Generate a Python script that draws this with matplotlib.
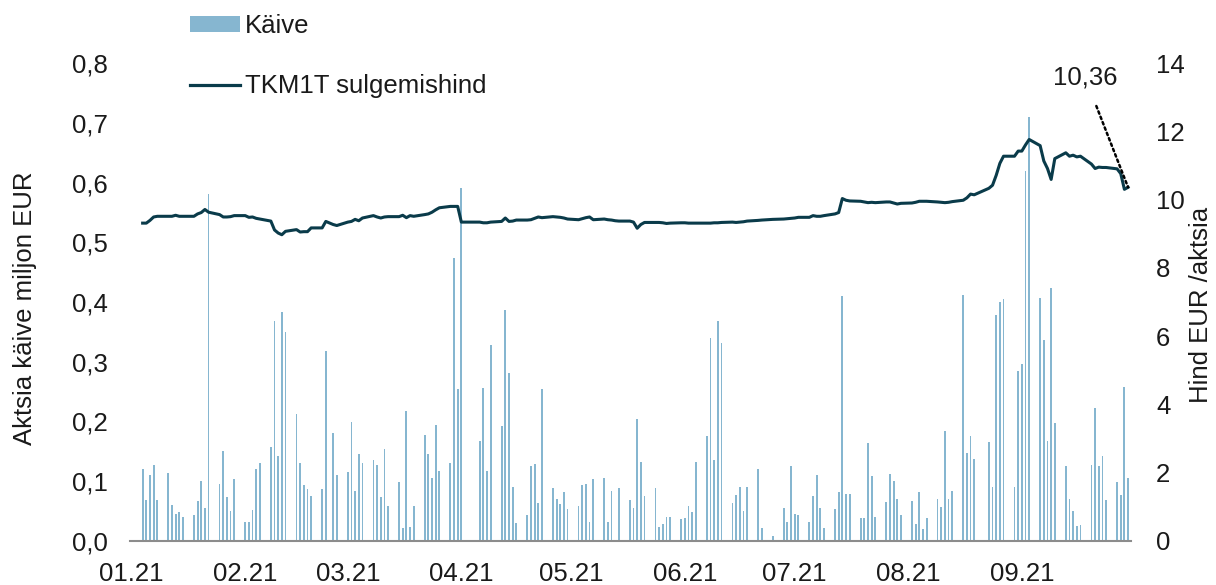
import matplotlib
matplotlib.use("Agg")
import matplotlib.pyplot as plt
import matplotlib.dates as mdates
from matplotlib.patches import Patch
from matplotlib.lines import Line2D
import pandas as pd

plt.rcParams['font.family'] = ['Liberation Sans', 'DejaVu Sans']

# ---- data -------------------------------------------------------------
holidays = ['2021-02-24', '2021-04-02', '2021-04-05', '2021-06-23', '2021-06-24', '2021-08-20']
trade_days = pd.bdate_range('2021-01-04', '2021-09-30')
trade_days = trade_days[~trade_days.isin(pd.to_datetime(holidays))]

# turnover, million EUR (one value per trading day)
volume = [
    0.121, 0.068, 0.111, 0.128, 0.069,
    0.113, 0.061, 0.046, 0.049, 0.040,
    0.044, 0.067, 0.100, 0.056, 0.581,
    0.096, 0.151, 0.074, 0.050, 0.103,
    0.031, 0.031, 0.052, 0.121, 0.131,
    0.158, 0.369, 0.143, 0.383, 0.349,
    0.212, 0.131, 0.094, 0.087, 0.076,
    0.087, 0.318, 0.180, 0.111,
    0.115, 0.199, 0.084, 0.146, 0.131,
    0.136, 0.127, 0.074, 0.154, 0.058,
    0.098, 0.021, 0.217, 0.024, 0.059,
    0.178, 0.146, 0.106, 0.194, 0.117,
    0.130, 0.473, 0.254, 0.591,
    0.167, 0.256, 0.117, 0.328,
    0.192, 0.386, 0.281, 0.091, 0.030,
    0.044, 0.125, 0.129, 0.063, 0.254,
    0.088, 0.070, 0.062, 0.082, 0.053,
    0.059, 0.094, 0.096, 0.032, 0.104,
    0.106, 0.031, 0.084, 0.000, 0.089,
    0.068, 0.055, 0.204, 0.133, 0.075,
    0.088, 0.024, 0.028, 0.040, 0.040,
    0.037, 0.038, 0.058, 0.049, 0.132,
    0.176, 0.340, 0.136, 0.368, 0.332,
    0.064, 0.077, 0.090, 0.051, 0.090,
    0.121, 0.022, 0.009,
    0.056, 0.031, 0.125, 0.045, 0.043,
    0.031, 0.075, 0.111, 0.056, 0.021,
    0.054, 0.082, 0.410, 0.079, 0.079,
    0.039, 0.039, 0.164, 0.109, 0.041,
    0.065, 0.112, 0.101, 0.071, 0.044,
    0.067, 0.028, 0.082, 0.020, 0.039,
    0.071, 0.057, 0.184, 0.071, 0.084,
    0.412, 0.148, 0.175, 0.138,
    0.165, 0.090, 0.379, 0.400, 0.405,
    0.091, 0.284, 0.297, 0.620, 0.709,
    0.406, 0.337, 0.168, 0.423, 0.197,
    0.126, 0.071, 0.051, 0.025, 0.026,
    0.128, 0.222, 0.125, 0.143, 0.069,
    0.099, 0.077, 0.258, 0.106,
]

# closing price, EUR per share
price = [
    9.31, 9.31, 9.39, 9.49, 9.51,
    9.51, 9.51, 9.54, 9.51, 9.51,
    9.51, 9.58, 9.62, 9.71, 9.63,
    9.56, 9.49, 9.49, 9.50, 9.53,
    9.53, 9.48, 9.49, 9.45, 9.43,
    9.37, 9.11, 9.02, 8.97, 9.07,
    9.12, 9.05, 9.06, 9.06, 9.17,
    9.17, 9.36, 9.27, 9.24,
    9.34, 9.36, 9.42, 9.38, 9.46,
    9.53, 9.49, 9.46, 9.49, 9.50,
    9.50, 9.54, 9.47, 9.53, 9.51,
    9.56, 9.58, 9.63, 9.70, 9.76,
    9.80, 9.80, 9.80, 9.34,
    9.34, 9.32, 9.32, 9.34,
    9.36, 9.46, 9.36, 9.37, 9.40,
    9.40, 9.41, 9.45, 9.49, 9.47,
    9.50, 9.49, 9.48, 9.46, 9.43,
    9.41, 9.44, 9.47, 9.49, 9.41,
    9.43, 9.41, 9.40, 9.38, 9.37,
    9.37, 9.34, 9.16, 9.27, 9.33,
    9.33, 9.33, 9.32, 9.30, 9.31,
    9.32, 9.32, 9.31, 9.31, 9.31,
    9.31, 9.31, 9.32, 9.32, 9.33,
    9.34, 9.33, 9.34, 9.35, 9.37,
    9.39, 9.40, 9.42,
    9.43, 9.44, 9.45, 9.46, 9.48,
    9.48, 9.53, 9.51, 9.51, 9.53,
    9.58, 9.62, 10.03, 9.98, 9.96,
    9.95, 9.93, 9.91, 9.92, 9.91,
    9.93, 9.93, 9.90, 9.87, 9.89,
    9.90, 9.92, 9.95, 9.95, 9.95,
    9.93, 9.92, 9.91, 9.92, 9.94,
    9.98, 10.05, 10.16, 10.14,
    10.33, 10.42, 10.71, 11.06, 11.27,
    11.27, 11.42, 11.42, 11.60, 11.76,
    11.58, 11.13, 10.91, 10.59, 11.20,
    11.37, 11.27, 11.30, 11.25, 11.27,
    11.04, 10.91, 10.95, 10.94, 10.94,
    10.90, 10.76, 10.30, 10.36,
]

left_ticks = [0.0, 0.1, 0.2, 0.3, 0.4, 0.5, 0.6, 0.7, 0.8]
left_tick_labels = ['0,0', '0,1', '0,2', '0,3', '0,4', '0,5', '0,6', '0,7', '0,8']
right_ticks = [0, 2, 4, 6, 8, 10, 12, 14]
month_starts = pd.date_range('2021-01-01', '2021-09-01', freq='MS')
last_label = '10,36'

# ---- style ------------------------------------------------------------
bar_color = '#86b6d0'
line_color = '#0a3b4a'
text_color = '#1a1a1a'
fs = 18.5

fig = plt.figure(figsize=(12.16, 5.85), dpi=100)
ax = fig.add_axes([130 / 1216, 1 - 541 / 585, (1131 - 130) / 1216, (541 - 63) / 585])
ax2 = ax.twinx()

x = mdates.date2num(trade_days)
ax.bar(x, volume, width=0.5, color=bar_color, align='center', zorder=2)
ax.set_ylim(0, 0.8)
ax.set_yticks(left_ticks)
ax.set_yticklabels(left_tick_labels)

ax2.plot(x, price, color=line_color, lw=2.2, solid_joinstyle='round', zorder=3)
ax2.set_ylim(0, 14)
ax2.set_yticks(right_ticks)
ax2.set_yticklabels([str(t) for t in right_ticks])

x0 = mdates.date2num(pd.Timestamp('2021-01-01')) - 0.45
x1 = mdates.date2num(pd.Timestamp('2021-09-30')) + 0.8
ax.set_xlim(x0, x1)
ax.set_xticks(mdates.date2num(month_starts))
ax.set_xticklabels([d.strftime('%m.%y') for d in month_starts])

for a in (ax, ax2):
    for s in ('top', 'left', 'right', 'bottom'):
        a.spines[s].set_visible(False)
ax.spines['bottom'].set_visible(True)
ax.spines['bottom'].set_color('#8c8c8c')
ax.spines['bottom'].set_linewidth(1.5)

ax.tick_params(axis='y', length=0, pad=16, labelsize=fs, colors=text_color)
ax.tick_params(axis='x', length=0, pad=15, labelsize=fs, colors=text_color)
ax2.tick_params(axis='y', length=0, pad=18, labelsize=fs, colors=text_color)

fig.text(25 / 1216, 1 - 308 / 585, 'Aktsia käive miljon EUR', rotation=90,
         ha='center', va='center', fontsize=fs, color=text_color)
fig.text(1201 / 1216, 1 - 305 / 585, 'Hind EUR /aktsia', rotation=90,
         ha='center', va='center', fontsize=fs, color=text_color)

# annotation of the last price
ax2.annotate(last_label, xy=(x[-1], price[-1]), xycoords='data',
             xytext=(1085 / 1216, 1 - 77 / 585), textcoords='figure fraction',
             ha='center', va='center', fontsize=fs, color=text_color,
             arrowprops=dict(arrowstyle='-', linestyle=(0, (1, 1.3)), lw=1.8,
                             color='black', shrinkA=11, shrinkB=0))

handles = [Patch(facecolor=bar_color, edgecolor='none'),
           Line2D([0], [0], color=line_color, lw=2.3)]
fig.legend(handles, ['Käive', 'TKM1T sulgemishind'], loc='upper left',
           bbox_to_anchor=(190 / 1216, 1 - 14 / 585), frameon=False,
           fontsize=fs, handlelength=1.95, handleheight=0.55, handletextpad=0.2,
           labelspacing=1.42, borderpad=0, borderaxespad=0, labelcolor=text_color)

fig.savefig('out.png', dpi=100)
